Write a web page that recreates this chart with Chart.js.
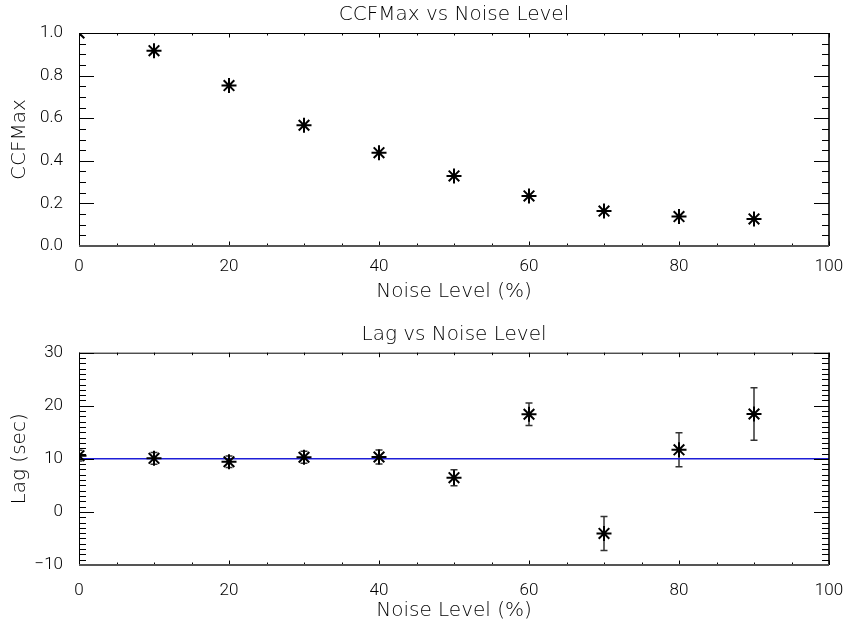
<!DOCTYPE html>
<html>
<head>
<meta charset="utf-8">
<script src="https://cdn.jsdelivr.net/npm/chart.js@4.4.1/dist/chart.umd.min.js"></script>
<style>
  html, body { margin: 0; padding: 0; background: #fff; }
  canvas { position: absolute; left: 0; }
</style>
</head>
<body>
<canvas id="ccf" width="847" height="312" style="top:0"></canvas>
<canvas id="lag" width="847" height="312" style="top:312px"></canvas>
<script>
// noise level (%) for each run
const noiseLevels = [0, 10, 20, 30, 40, 50, 60, 70, 80, 90];
// peak of cross correlation
const ccfMax = [1.0, 0.917, 0.753, 0.567, 0.438, 0.329, 0.235, 0.164, 0.138, 0.127];
// lag at the peak (sec) and its error
const lagValues = [10.6, 10.1, 9.45, 10.3, 10.35, 6.45, 18.4, -4.05, 11.7, 18.45];
const lagErrors = [1.0, 1.1, 1.1, 1.15, 1.3, 1.5, 2.1, 3.2, 3.2, 4.95];
const trueLag = 10;

const titleFont = { family: 'DejaVu Sans', size: 20, weight: '200' };
const tickFont = { family: 'Roboto', size: 17, weight: '300' };

// IDL style box with inward ticks on all four sides
function frameTicks(xMajor, xMinor, yMajor, yMinor) {
  return {
    id: 'frameTicks',
    afterDatasetsDraw(chart) {
      const { ctx, chartArea: a, scales: { x, y } } = chart;
      ctx.save();
      ctx.strokeStyle = '#000';
      ctx.lineWidth = 1;
      const seg = (x1, y1, x2, y2) => {
        ctx.beginPath(); ctx.moveTo(x1, y1); ctx.lineTo(x2, y2); ctx.stroke();
      };
      const isMajor = (v, step) => Math.abs(v / step - Math.round(v / step)) < 1e-6;

      for (let i = 0; x.min + i * xMinor <= x.max + 1e-9; i++) {
        const v = x.min + i * xMinor;
        const px = Math.round(x.getPixelForValue(v)) + 0.5;
        const len = isMajor(v, xMajor) ? 4.5 : 2.5;
        seg(px, a.bottom, px, a.bottom - len);
        seg(px, a.top, px, a.top + len);
      }
      for (let i = 0; y.min + i * yMinor <= y.max + 1e-9; i++) {
        const v = y.min + i * yMinor;
        const py = Math.round(y.getPixelForValue(v)) + 0.5;
        const len = isMajor(v, yMajor) ? 15 : 7;
        seg(a.left, py, a.left + len, py);
        seg(a.right, py, a.right - len, py);
      }

      ctx.lineWidth = 1;
      seg(a.left + 0.5, a.top, a.left + 0.5, a.bottom);
      seg(a.left, a.top + 0.5, a.right, a.top + 0.5);
      ctx.lineWidth = 1.6;
      seg(a.right, a.top, a.right, a.bottom);
      ctx.strokeStyle = '#555';
      ctx.lineWidth = 2;
      seg(a.left, a.bottom, a.right, a.bottom);
      ctx.restore();
    }
  };
}

const lagErrorBars = {
  id: 'lagErrorBars',
  beforeDatasetsDraw(chart) {
    const { ctx, chartArea: a, scales: { x, y } } = chart;
    ctx.save();
    ctx.beginPath();
    ctx.rect(a.left, a.top, a.right - a.left, a.bottom - a.top);
    ctx.clip();
    ctx.strokeStyle = '#333';
    ctx.lineWidth = 1.5;
    lagValues.forEach((v, i) => {
      const px = x.getPixelForValue(noiseLevels[i]);
      const hi = y.getPixelForValue(v + lagErrors[i]);
      const lo = y.getPixelForValue(v - lagErrors[i]);
      ctx.beginPath();
      ctx.moveTo(px, hi); ctx.lineTo(px, lo);
      ctx.moveTo(px - 3.5, hi); ctx.lineTo(px + 3.5, hi);
      ctx.moveTo(px - 3.5, lo); ctx.lineTo(px + 3.5, lo);
      ctx.stroke();
    });
    ctx.restore();
  }
};

function panelOptions(title, yTitle, yMin, yMax, yStep, yFmt, titlePad, xHeight, xPad, xTitlePad) {
  return {
    responsive: false,
    animation: false,
    devicePixelRatio: 1,
    layout: { padding: { left: 0, right: 18, top: 0, bottom: 0 } },
    plugins: {
      legend: { display: false },
      tooltip: { enabled: false },
      title: {
        display: true,
        text: title,
        fullSize: false,
        color: '#000',
        font: titleFont,
        padding: titlePad
      }
    },
    scales: {
      x: {
        type: 'linear',
        min: 0,
        max: 100,
        grid: { display: false },
        border: { display: false },
        ticks: { stepSize: 20, color: '#000', font: tickFont, padding: xPad, maxRotation: 0 },
        title: { display: true, text: 'Noise Level (%)', color: '#000', font: titleFont, padding: { top: 0, bottom: xTitlePad } },
        afterFit: s => { s.height = xHeight; s.paddingLeft = 0; s.paddingRight = 0; }
      },
      y: {
        type: 'linear',
        min: yMin,
        max: yMax,
        grid: { display: false },
        border: { display: false },
        ticks: { stepSize: yStep, color: '#000', font: tickFont, padding: 8, callback: yFmt },
        title: { display: true, text: yTitle, color: '#000', font: titleFont, padding: { top: 8, bottom: 0 } },
        afterFit: s => { s.width = 79; s.paddingTop = 0; s.paddingBottom = 0; }
      }
    }
  };
}

const starStyle = {
  showLine: false,
  pointStyle: 'star',
  pointRadius: 7.5,
  pointBorderWidth: 2,
  borderColor: '#000',
  backgroundColor: '#000',
  clip: 0,
  order: 0
};

new Chart(document.getElementById('ccf').getContext('2d'), {
  type: 'scatter',
  data: {
    datasets: [
      Object.assign({ label: 'CCFMax', data: noiseLevels.map((n, i) => ({ x: n, y: ccfMax[i] })) }, starStyle)
    ]
  },
  options: panelOptions('CCFMax vs Noise Level', 'CCFMax', 0, 1, 0.2,
    v => v.toFixed(1), { top: 3, bottom: 6 }, 66, 3, 8.3),
  plugins: [frameTicks(20, 5, 0.2, 0.05)]
});

new Chart(document.getElementById('lag').getContext('2d'), {
  type: 'scatter',
  data: {
    datasets: [
      Object.assign({ label: 'Lag', data: noiseLevels.map((n, i) => ({ x: n, y: lagValues[i] })) }, starStyle),
      {
        label: 'True lag',
        data: [{ x: 0, y: trueLag }, { x: 100, y: trueLag }],
        showLine: true,
        borderColor: 'rgb(30,30,215)',
        borderWidth: 1.5,
        pointRadius: 0,
        clip: 0,
        order: 1
      }
    ]
  },
  options: panelOptions('Lag vs Noise Level', 'Lag (sec)', -10, 30, 10,
    v => String(v).replace('-', '\u2212'), { top: 11, bottom: 5.7 }, 59, 8, 1),
  plugins: [lagErrorBars, frameTicks(20, 5, 10, 1)]
});
</script>
</body>
</html>
